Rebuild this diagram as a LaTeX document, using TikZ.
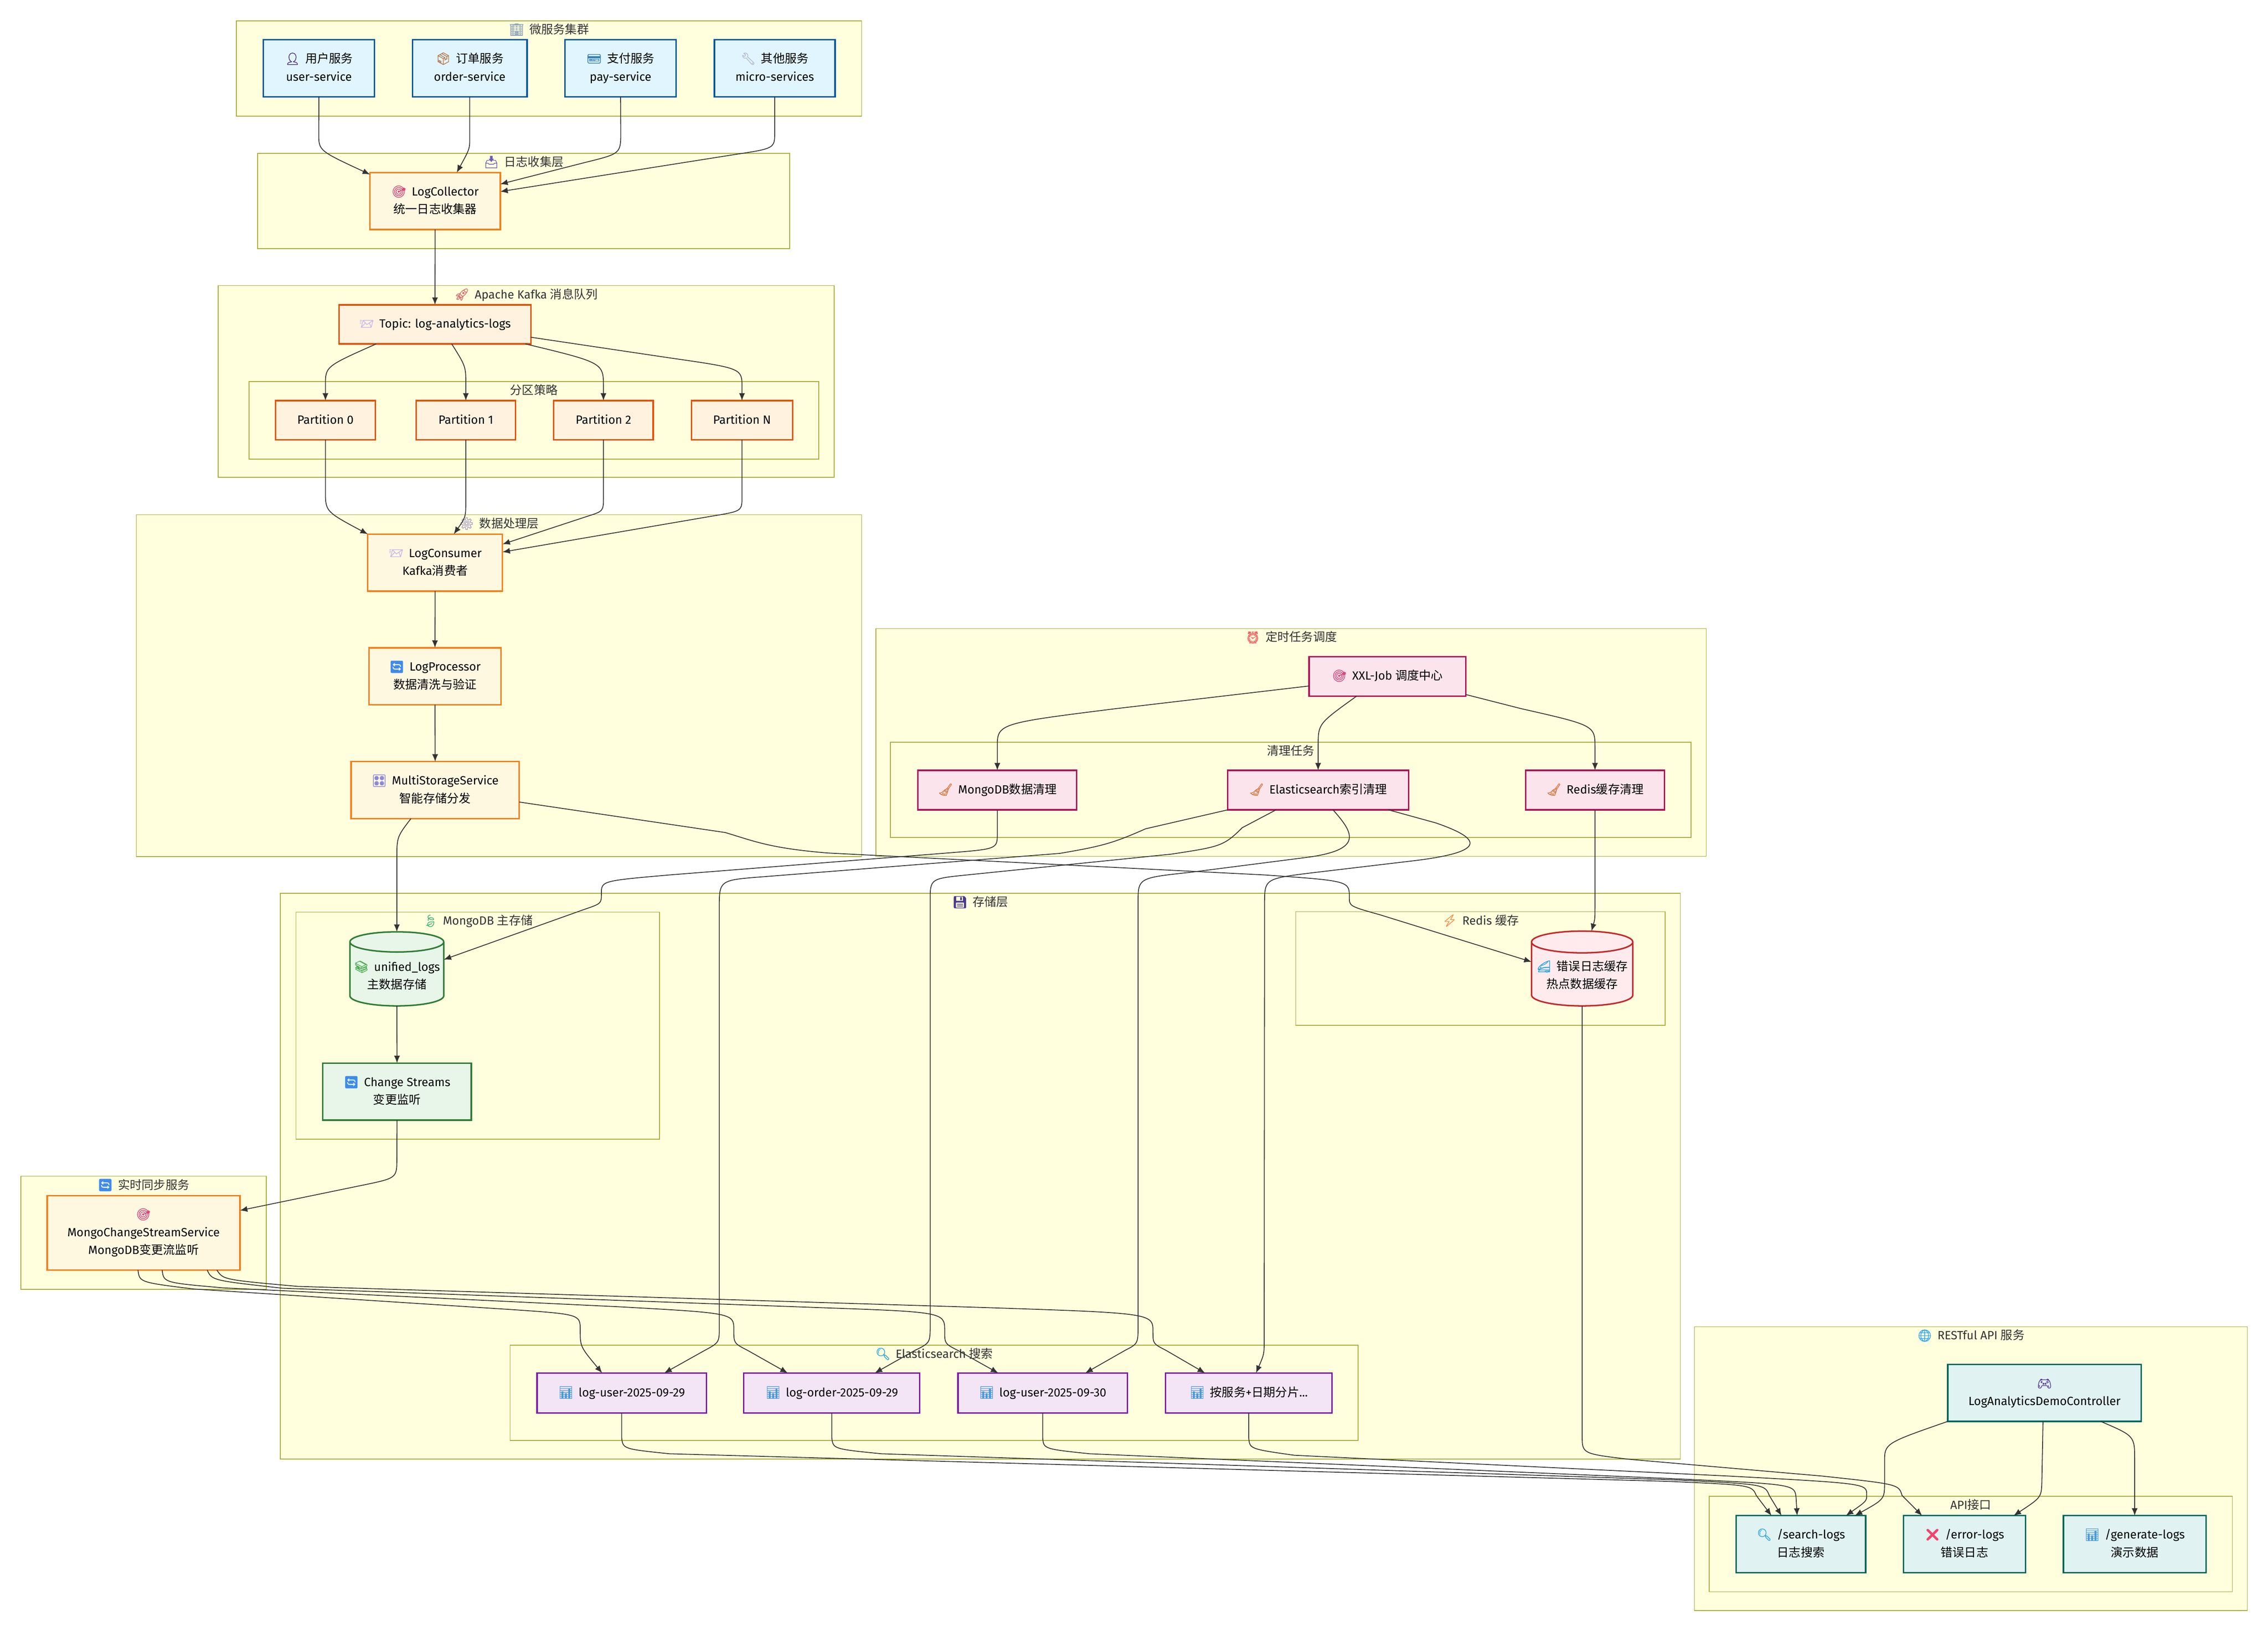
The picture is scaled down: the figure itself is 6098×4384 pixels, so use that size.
\documentclass[tikz,border=0pt]{standalone}
\usepackage{fontspec}
\setmainfont{Fira Sans}
\newfontfamily\cjk{Noto Sans CJK SC}
\newfontfamily\emojifont[FakeBold=1.5]{Noto Emoji}
\newcommand{\zh}[1]{{\cjk #1}}
\newcommand{\emo}[2]{\strut\smash{\color[HTML]{#1}\emojifont #2}\hspace{0.14cm}}
\usetikzlibrary{arrows.meta}
\usetikzlibrary{shapes.geometric}
\tikzstyle{group_box} = [
    rectangle,
    draw=groupline,
    fill=groupfill,
    line width=0.02cm,
    outer sep=0pt,
    inner sep=0pt
]
\tikzstyle{group_title} = [
    text=titletext,
    font=\fontsize{9.1}{13.7}\selectfont,
    execute at begin node=\strut,
    inner sep=0pt
]
\tikzstyle{text_node} = [
    text=black,
    font=\fontsize{9.1}{13.7}\selectfont,
    align=center,
    execute at begin node=\strut,
    outer sep=0pt,
    inner sep=0pt
]
\tikzstyle{base_node} = [
    text_node,
    rectangle,
    line width=0.04cm
]
\tikzstyle{svc_node} = [base_node, draw=svcline, fill=svcfill, minimum height=1.53cm]
\tikzstyle{app_node} = [base_node, draw=appline, fill=appfill, minimum height=1.53cm]
\tikzstyle{kafka_node} = [base_node, draw=kafkaline, fill=kafkafill, minimum height=1.05cm]
\tikzstyle{job_node} = [base_node, draw=jobline, fill=jobfill, minimum height=1.06cm]
\tikzstyle{mongo_node} = [base_node, draw=mongoline, fill=mongofill, minimum height=1.53cm]
\tikzstyle{es_node} = [base_node, draw=esline, fill=esfill, minimum height=1.07cm]
\tikzstyle{api_node} = [base_node, draw=apiline, fill=apifill, minimum height=1.53cm]
\tikzstyle{db_node} = [
    cylinder,
    shape border rotate=90,
    aspect=0.215,
    line width=0.04cm,
    outer sep=0pt,
    inner sep=0pt,
    anchor=shape center
]
\tikzstyle{edge} = [
    draw=edgeline,
    line width=0.022cm,
    -{Latex[length=0.2cm,width=0.16cm]}
]
\definecolor{groupfill}{HTML}{FFFFDE}
\definecolor{groupline}{HTML}{AAAA33}
\definecolor{titletext}{HTML}{333333}
\definecolor{edgeline}{HTML}{333333}
\definecolor{svcfill}{HTML}{E1F5FE}
\definecolor{svcline}{HTML}{01579B}
\definecolor{appfill}{HTML}{FFF8E1}
\definecolor{appline}{HTML}{F57F17}
\definecolor{kafkafill}{HTML}{FFF3E0}
\definecolor{kafkaline}{HTML}{E65100}
\definecolor{jobfill}{HTML}{FCE4EC}
\definecolor{jobline}{HTML}{AD1457}
\definecolor{mongofill}{HTML}{E8F5E9}
\definecolor{mongoline}{HTML}{2E7D32}
\definecolor{redisfill}{HTML}{FFEBEE}
\definecolor{redisline}{HTML}{C62828}
\definecolor{esfill}{HTML}{F3E5F5}
\definecolor{esline}{HTML}{7B1FA2}
\definecolor{apifill}{HTML}{E0F2F1}
\definecolor{apiline}{HTML}{00695C}
\begin{document}
\begin{tikzpicture}[x=0.01cm, y=-0.01cm]
\useasboundingbox (0,0) rectangle (6098,4384);

% groups
\node [group_box, minimum width=16.80cm, minimum height=2.56cm] (grp_svc) at (1476,184) {};
\node [group_box, minimum width=14.30cm, minimum height=2.56cm] (grp_collect) at (1408,540) {};
\node [group_box, minimum width=16.55cm, minimum height=5.15cm] (grp_kafka) at (1414.5,1025.5) {};
\node [group_box, minimum width=15.31cm, minimum height=2.08cm] (grp_part) at (1435.5,1130) {};
\node [group_box, minimum width=19.49cm, minimum height=9.18cm] (grp_proc) at (1341.5,1843) {};
\node [group_box, minimum width=22.31cm, minimum height=6.12cm] (grp_job) at (3471.5,1996) {};
\node [group_box, minimum width=21.51cm, minimum height=2.56cm] (grp_clean) at (3470.5,2123) {};
\node [group_box, minimum width=37.62cm, minimum height=15.20cm] (grp_store) at (2636,3162) {};
\node [group_box, minimum width=9.77cm, minimum height=6.10cm] (grp_mongo) at (1284.5,2757) {};
\node [group_box, minimum width=9.93cm, minimum height=3.05cm] (grp_redis) at (3980.5,2603.5) {};
\node [group_box, minimum width=22.79cm, minimum height=2.56cm] (grp_es) at (2511.5,3744) {};
\node [group_box, minimum width=6.60cm, minimum height=3.04cm] (grp_sync) at (386,3314) {};
\node [group_box, minimum width=14.86cm, minimum height=7.62cm] (grp_api) at (5299,3948) {};
\node [group_box, minimum width=14.06cm, minimum height=2.57cm] (grp_port) at (5299,4150.5) {};

% group titles
\node [group_title] (ttl_svc) at ([yshift=-0.25cm]grp_svc.north) {\emo{8FA3B8}{🏢}\zh{微服务集群}};
\node [group_title] (ttl_collect) at ([yshift=-0.25cm]grp_collect.north) {\emo{6B5FB5}{📥}\zh{日志收集层}};
\node [group_title] (ttl_kafka) at ([yshift=-0.25cm]grp_kafka.north) {\emo{E06A6A}{🚀}Apache Kafka \zh{消息队列}};
\node [group_title] (ttl_part) at ([yshift=-0.25cm]grp_part.north) {\zh{分区策略}};
\node [group_title] (ttl_proc) at ([yshift=-0.25cm]grp_proc.north) {\emo{A9A0C8}{⚙}\zh{数据处理层}};
\node [group_title] (ttl_job) at ([yshift=-0.25cm]grp_job.north) {\emo{F06060}{⏰}\zh{定时任务调度}};
\node [group_title] (ttl_clean) at ([yshift=-0.25cm]grp_clean.north) {\zh{清理任务}};
\node [group_title] (ttl_store) at ([yshift=-0.25cm]grp_store.north) {\emo{4A3A8A}{💾}\zh{存储层}};
\node [group_title] (ttl_mongo) at ([yshift=-0.25cm]grp_mongo.north) {\emo{3CB371}{🍃}MongoDB \zh{主存储}};
\node [group_title] (ttl_redis) at ([yshift=-0.25cm]grp_redis.north) {\emo{FF8A3C}{⚡}Redis \zh{缓存}};
\node [group_title] (ttl_es) at ([yshift=-0.25cm]grp_es.north) {\emo{2AA8D8}{🔍}Elasticsearch \zh{搜索}};
\node [group_title] (ttl_sync) at ([yshift=-0.25cm]grp_sync.north) {\emo{3D8BF0}{🔄}\zh{实时同步服务}};
\node [group_title] (ttl_api) at ([yshift=-0.25cm]grp_api.north) {\emo{35A8F0}{🌐}RESTful API \zh{服务}};
\node [group_title] (ttl_port) at ([yshift=-0.25cm]grp_port.north) {API\zh{接口}};

% services
\node [svc_node, minimum width=2.99cm] (svc_user) at (857.5,183.5) {\emo{4A2A7F}{👤}\zh{用户服务}\\user-service\strut};
\node [svc_node, minimum width=3.08cm] (svc_order) at (1263,183.5) {\emo{B8794F}{📦}\zh{订单服务}\\order-service\strut};
\node [svc_node, minimum width=2.99cm] (svc_pay) at (1668.5,183.5) {\emo{2D7FB8}{💳}\zh{支付服务}\\pay-service\strut};
\node [svc_node, minimum width=3.24cm] (svc_micro) at (2083,183.5) {\emo{B9B6D6}{🔧}\zh{其他服务}\\micro-services\strut};

% collector and kafka
\node [app_node, minimum width=3.50cm] (collector) at (1170,540.5) {\emo{E0457B}{🎯}LogCollector\\\zh{统一日志收集器}\strut};
\node [kafka_node, minimum width=5.15cm] (topic) at (1169.5,872) {\emo{C9B8E8}{📨}Topic: log-analytics-logs};
\node [kafka_node, minimum width=2.68cm] (part0) at (875,1129.5) {Partition 0};
\node [kafka_node, minimum width=2.67cm] (part1) at (1252.5,1129.5) {Partition 1};
\node [kafka_node, minimum width=2.67cm] (part2) at (1622.5,1129.5) {Partition 2};
\node [kafka_node, minimum width=2.72cm] (partN) at (1995,1129.5) {Partition N};

% processing
\node [app_node, minimum width=3.62cm] (consumer) at (1170,1512.5) {\emo{C9B8E8}{📨}LogConsumer\\Kafka\zh{消费者}\strut};
\node [app_node, minimum width=3.55cm] (processor) at (1169.5,1818) {\emo{3D8BF0}{🔄}LogProcessor\\\zh{数据清洗与验证}\strut};
\node [app_node, minimum width=4.52cm] (multi) at (1170,2124) {\emo{8A85D6}{🎛}MultiStorageService\\\zh{智能存储分发}\strut};

% jobs
\node [job_node, minimum width=4.21cm] (xxl) at (3730.5,1818) {\emo{E0457B}{🎯}XXL-Job \zh{调度中心}};
\node [job_node, minimum width=4.27cm] (clean_mongo) at (2681.5,2124) {\emo{D9773A}{🧹}MongoDB\zh{数据清理}};
\node [job_node, minimum width=4.86cm] (clean_es) at (3544,2124) {\emo{D9773A}{🧹}Elasticsearch\zh{索引清理}};
\node [job_node, minimum width=3.73cm] (clean_redis) at (4288.5,2124) {\emo{D9773A}{🧹}Redis\zh{缓存清理}};

% storage
\node [db_node, draw=mongoline, fill=mongofill, minimum width=2.52cm, minimum height=1.99cm] (unified) at (1067,2604.5) {\rule{2.52cm}{0pt}};
\node [db_node, draw=redisline, fill=redisfill, minimum width=2.72cm, minimum height=2.01cm] (redis) at (4254,2603.5) {\rule{2.72cm}{0pt}};
\node [text_node] (unified_text) at ([yshift=-0.2cm]unified.shape center) {\emo{4CAF50}{📚}unified\_logs\\\zh{主数据存储}\strut};
\node [text_node] (redis_text) at ([yshift=-0.2cm]redis.shape center) {\emo{2AA4D8}{🚄}\zh{错误日志缓存}\\\zh{热点数据缓存}\strut};
\node [mongo_node, minimum width=3.99cm] (change) at (1067.5,2934.5) {\emo{3D8BF0}{🔄}Change Streams\\\zh{变更监听}\strut};
\node [app_node, minimum width=5.18cm, minimum height=2.00cm] (mongosync) at (386,3314) {\emo{E0457B}{🎯}\\MongoChangeStreamService\\MongoDB\zh{变更流监听}\strut};
\node [es_node, minimum width=4.55cm] (es1) at (1671.5,3744.5) {\emo{4A9AD8}{📊}log-user-2025-09-29};
\node [es_node, minimum width=4.73cm] (es2) at (2236.5,3744.5) {\emo{4A9AD8}{📊}log-order-2025-09-29};
\node [es_node, minimum width=4.55cm] (es3) at (2803.5,3744.5) {\emo{4A9AD8}{📊}log-user-2025-09-30};
\node [es_node, minimum width=4.47cm] (es4) at (3357.5,3744.5) {\emo{4A9AD8}{📊}\zh{按服务}+\zh{日期分片}...};

% api
\node [api_node, minimum width=5.20cm] (ctrl) at (5497,3744.5) {\emo{5A3A9F}{🎮}\\LogAnalyticsDemoController\strut};
\node [api_node, minimum width=3.48cm] (search) at (4842,4151) {\emo{2AA8D8}{🔍}/search-logs\\\zh{日志搜索}\strut};
\node [api_node, minimum width=3.28cm] (error) at (5282,4151) {\emo{F0456E}{❌}/error-logs\\\zh{错误日志}\strut};
\node [api_node, minimum width=3.83cm] (generate) at (5739.5,4151) {\emo{4A9AD8}{📊}/generate-logs\\\zh{演示数据}\strut};

% services to collector
\draw [edge] (svc_user.south) -- (857,360) .. controls (857,405) .. ([yshift=-0.05cm]collector.north west);
\draw [edge] (svc_order.south) -- (1263,370) .. controls (1263,400) .. ([xshift=0.58cm]collector.north);
\draw [edge] (svc_pay.south) -- (1669,355) .. controls (1669,413) .. (1576,436) -- ([yshift=-0.31cm]collector.north east);
\draw [edge] (svc_micro.south) -- (2083,355) .. controls (2083,399) .. (1978,415) -- ([yshift=-0.51cm]collector.north east);
\draw [edge] (collector.south) -- (topic.north);

% topic to partitions
\draw [edge] ([xshift=-1.58cm]topic.south) .. controls (875,985) .. (875,1035) -- (part0.north);
\draw [edge] ([xshift=0.45cm]topic.south) .. controls (1252.5,985) .. (1252.5,1035) -- (part1.north);
\draw [edge] ([xshift=2.43cm]topic.south) .. controls (1622.5,975) .. (1622.5,1040) -- (part2.north);
\draw [edge] ([yshift=-0.87cm]topic.north east) -- (1800,962) .. controls (1995,990) .. (1995,1040) -- (partN.north);

% partitions to consumer
\draw [edge] (part0.south) -- (875,1320) .. controls (875,1375) .. (consumer.north west);
\draw [edge] (part1.south) -- (1252.5,1340) .. controls (1252.5,1390) .. ([xshift=0.5cm]consumer.north);
\draw [edge] (part2.south) -- (1622.5,1335) .. controls (1622.5,1374) .. (1582,1387) -- ([yshift=-0.27cm]consumer.north east);
\draw [edge] (partN.south) -- (1995,1335) .. controls (1995,1374) .. (1917,1387) -- ([yshift=-0.48cm]consumer.north east);
\draw [edge] (consumer.south) -- (processor.north);
\draw [edge] (processor.south) -- (multi.north);

% multi storage
\draw [edge] ([xshift=-0.65cm]multi.south) .. controls (1067,2250) .. (1067,2310) -- (unified.north);
\draw [edge] ([yshift=-0.32cm]multi.east) -- (1950,2238) .. controls (2030,2262) and (2070,2280) .. (2225,2293) -- (3400,2352) .. controls (3628,2368) .. (3628,2412) .. controls (3628,2436) .. (3710,2459) -- ([yshift=0.335cm]redis.west);
\draw [edge] (unified.south) -- (change.north);
\draw [edge] (change.south) -- (1067,3115) .. controls (1067,3167) .. (975,3186) -- ([yshift=0.6cm]mongosync.east);

% change streams to indices
\draw [edge] ([xshift=-0.15cm]mongosync.south) .. controls (375,3447) .. (520,3465) -- (1370,3520) .. controls (1560,3533) .. (1560,3575) .. controls (1560,3620) .. ([xshift=-0.525cm]es1.north);
\draw [edge] ([xshift=0.5cm]mongosync.south) .. controls (440,3448) .. (600,3462) -- (1667,3513) .. controls (1973,3530) .. (1973,3575) .. controls (1973,3611) .. (2010,3630) -- ([xshift=-1.185cm]es2.north);
\draw [edge] ([xshift=1.71cm]mongosync.south) .. controls (570,3442) .. (760,3463) -- (2200,3515) .. controls (2540,3527) .. (2540,3578) .. controls (2540,3612) .. (2575,3630) -- ([xshift=-1.195cm]es3.north);
\draw [edge] ([xshift=1.97cm]mongosync.south) .. controls (600,3440) .. (800,3458) -- (2650,3515) .. controls (3100,3530) .. (3100,3580) .. controls (3100,3612) .. (3135,3630) -- ([xshift=-1.175cm]es4.north);

% job center
\draw [edge] ([yshift=-0.26cm]xxl.west) -- (3000,1905) .. controls (2681,1945) .. (2681.5,2010) -- (clean_mongo.north);
\draw [edge] ([xshift=-0.825cm]xxl.south) .. controls (3545,1945) .. (3544,2000) -- (clean_es.north);
\draw [edge] ([yshift=-0.49cm]xxl.east) -- (4090,1905) .. controls (4288.5,1950) .. (4288.5,2010) -- (clean_redis.north);

% cleanup
\draw [edge] (clean_mongo.south) -- (2681.5,2240) .. controls (2681.5,2282) .. (2560,2292) -- (1800,2352) .. controls (1617,2368) .. (1617,2402) .. controls (1617,2429) .. (1570,2445) -- ([yshift=0.395cm]unified.east);
\draw [edge] (clean_es.south west) -- (3080,2228) .. controls (2990,2268) and (2960,2275) .. (2850,2294) -- (2050,2357) .. controls (1934,2366) .. (1934,2440) -- (1934,3565) .. controls (1934,3609) .. (1895,3630) -- ([xshift=1.145cm]es1.north);
\draw [edge] ([xshift=-1.13cm]clean_es.south) -- (3340,2225) .. controls (3290,2275) and (3280,2276) .. (3150,2296) -- (2600,2352) .. controls (2501,2362) .. (2501,2420) -- (2501,3560) .. controls (2501,3610) .. (2460,3630) -- ([xshift=1.155cm]es2.north);
\draw [edge] ([xshift=0.4cm]clean_es.south) .. controls (3640,2240) and (3665,2283) .. (3520,2304) -- (3200,2345) .. controls (3060,2360) .. (3060,2425) -- (3060,3560) .. controls (3060,3612) .. (3025,3630) -- ([xshift=1.145cm]es3.north);
\draw [edge] ([xshift=1.89cm]clean_es.south) -- (3860,2212) .. controls (3985,2255) and (4000,2290) .. (3800,2314) -- (3530,2346) .. controls (3400,2362) .. (3400,2430) -- (3399,3600) .. controls (3399,3640) .. ([xshift=0.195cm]es4.north);
\draw [edge] (clean_redis.south) -- (4288.5,2430) .. controls (4288.5,2470) .. ([xshift=0.25cm]redis.north);

% indices and cache to endpoints
\draw [edge] (es1.south) -- (1671.5,3865) .. controls (1675,3895) .. (1800,3908) -- (4480,3982) .. controls (4710,3992) .. (4722,4020) -- ([xshift=-0.79cm]search.north);
\draw [edge] (es2.south) -- (2236.5,3865) .. controls (2240,3895) .. (2370,3908) -- (4500,3978) .. controls (4745,3990) .. (4757,4020) -- ([xshift=-0.52cm]search.north);
\draw [edge] (es3.south) -- (2803.5,3865) .. controls (2806,3895) .. (2930,3908) -- (4500,3975) .. controls (4825,3990) .. (4829,4025) -- ([xshift=-0.1cm]search.north);
\draw [edge] (es4.south) -- (3357.5,3865) .. controls (3360,3895) .. (3480,3912) -- (4650,3968) .. controls (5019,3988) .. (5019,4018) .. controls (5019,4035) .. ([xshift=1.21cm]search.north);
\draw [edge] (redis.south) -- (4254,3860) .. controls (4254,3908) .. (4382,3923) -- (4900,3968) .. controls (5105,3990) .. (5114,4020) -- ([xshift=-1.14cm]error.north);

% controller
\draw [edge] (ctrl.south west) .. controls (5067,3880) .. (5067,3930) -- (5067,3985) .. controls (5067,4030) .. ([xshift=1.45cm]search.north);
\draw [edge] ([xshift=-0.04cm]ctrl.south) -- (5490,3980) .. controls (5489,4025) .. ([xshift=1.32cm]error.north);
\draw [edge] ([xshift=1.51cm]ctrl.south) .. controls (5739.5,3860) .. (5739.5,3925) -- (generate.north);
\end{tikzpicture}
\end{document}
